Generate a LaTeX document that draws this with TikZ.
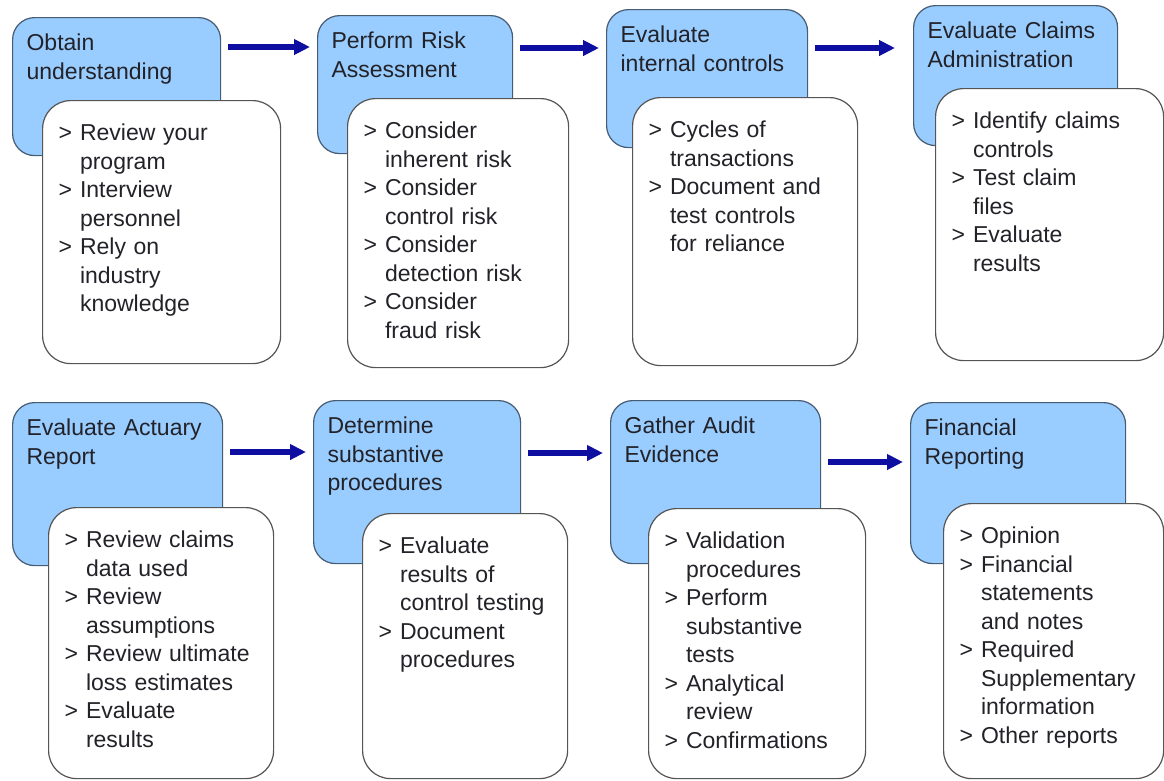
\documentclass[tikz,border=0pt]{standalone}
\usepackage{fontspec}
\setmainfont{Liberation Sans}
\usetikzlibrary{arrows.meta}

\definecolor{headfill}{RGB}{153,204,255}
\definecolor{headline}{RGB}{70,92,115}
\definecolor{noteline}{RGB}{85,85,85}
\definecolor{flowblue}{RGB}{14,14,160}
\definecolor{ink}{RGB}{34,34,40}

\begin{document}
\begin{tikzpicture}[x=1pt, y=-1pt,
    every node/.style={font=\fontsize{23}{28.5}\selectfont, text=ink, anchor=north west},
    head/.style 2 args={draw=headline, fill=headfill, line width=1.2pt, rounded corners=22pt,
        align=left, inner xsep=14pt, inner ysep=13pt, text height=20pt, text width=#1, text depth=#2},
    note/.style 2 args={draw=noteline, fill=white, line width=1.2pt, rounded corners=28pt,
        inner xsep=16pt, inner ysep=20pt, text height=20pt, text width=#1, text depth=#2},
    flow/.style={draw=flowblue, line width=5.5pt, -{Triangle[length=16pt,width=15pt]},
        shorten <=7pt, shorten >=7pt}]

    \useasboundingbox (0,0) rectangle (1164,780);

    % top row
    \node[head={180pt}{92pt}] (obtain) at (12,17) {Obtain\\understanding};
    \node[note={206pt}{203pt}] (obtainlist) at (42,100) {%
      \begin{tabular}[t]{@{}l@{\hspace{8pt}}l@{}}
        > & Review your\\ & program\\
        > & Interview\\ & personnel\\
        > & Rely on\\ & industry\\ & knowledge
      \end{tabular}};

    \node[head={167pt}{92pt}] (risk) at (317,15) {Perform Risk\\Assessment};
    \node[note={189pt}{209pt}] (risklist) at (347,98) {%
      \begin{tabular}[t]{@{}l@{\hspace{8pt}}l@{}}
        > & Consider\\ & inherent risk\\
        > & Consider\\ & control risk\\
        > & Consider\\ & detection risk\\
        > & Consider\\ & fraud risk
      \end{tabular}};

    \node[head={173pt}{92pt}] (internal) at (606,9) {Evaluate\\internal controls};
    \node[note={193pt}{208pt}] (internallist) at (632,97) {%
      \begin{tabular}[t]{@{}l@{\hspace{8pt}}l@{}}
        > & Cycles of\\ & transactions\\
        > & Document and\\ & test controls\\ & for reliance
      \end{tabular}};

    \node[head={176pt}{94pt}] (claims) at (913,5) {Evaluate Claims\\Administration};
    \node[note={196pt}{212pt}] (claimslist) at (935,88) {%
      \begin{tabular}[t]{@{}l@{\hspace{8pt}}l@{}}
        > & Identify claims\\ & controls\\
        > & Test claim\\ & files\\
        > & Evaluate\\ & results
      \end{tabular}};

    % bottom row
    \node[head={182pt}{117pt}] (actuary) at (12,402) {Evaluate Actuary\\Report};
    \node[note={193pt}{211pt}] (actuarylist) at (48,507) {%
      \begin{tabular}[t]{@{}l@{\hspace{8pt}}l@{}}
        > & Review claims\\ & data used\\
        > & Review\\ & assumptions\\
        > & Review ultimate\\ & loss estimates\\
        > & Evaluate\\ & results
      \end{tabular}};

    \node[head={179pt}{117pt}] (substantive) at (313,400) {Determine\\substantive\\procedures};
    \node[note={173pt}{205pt}] (substantivelist) at (362,513) {%
      \begin{tabular}[t]{@{}l@{\hspace{8pt}}l@{}}
        > & Evaluate\\ & results of\\ & control testing\\
        > & Document\\ & procedures
      \end{tabular}};

    \node[head={182pt}{117pt}] (evidence) at (610,400) {Gather Audit\\Evidence};
    \node[note={185pt}{210pt}] (evidencelist) at (648,508) {%
      \begin{tabular}[t]{@{}l@{\hspace{8pt}}l@{}}
        > & Validation\\ & procedures\\
        > & Perform\\ & substantive\\ & tests\\
        > & Analytical\\ & review\\
        > & Confirmations
      \end{tabular}};

    \node[head={187pt}{115pt}] (reporting) at (910,402) {Financial\\Reporting};
    \node[note={188pt}{215pt}] (reportinglist) at (943,503) {%
      \begin{tabular}[t]{@{}l@{\hspace{8pt}}l@{}}
        > & Opinion\\
        > & Financial\\ & statements\\ & and notes\\
        > & Required\\ & Supplementary\\ & information\\
        > & Other reports
      \end{tabular}};

    % draw arrows
    \draw[flow] ([yshift=-30pt]obtain.north east) -- ([yshift=-30pt]obtain.north east -| risk.west);
    \draw[flow] ([yshift=-33pt]risk.north east) -- ([yshift=-33pt]risk.north east -| internal.west);
    \draw[flow, shorten >=18pt] ([yshift=-39pt]internal.north east) -- ([yshift=-39pt]internal.north east -| claims.west);

    \draw[flow] ([yshift=-50pt]actuary.north east) -- ([yshift=-50pt]actuary.north east -| substantive.west);
    \draw[flow] ([yshift=-53pt]substantive.north east) -- ([yshift=-53pt]substantive.north east -| evidence.west);
    \draw[flow] ([yshift=-62pt]evidence.north east) -- ([yshift=-62pt]evidence.north east -| reporting.west);
\end{tikzpicture}
\end{document}
